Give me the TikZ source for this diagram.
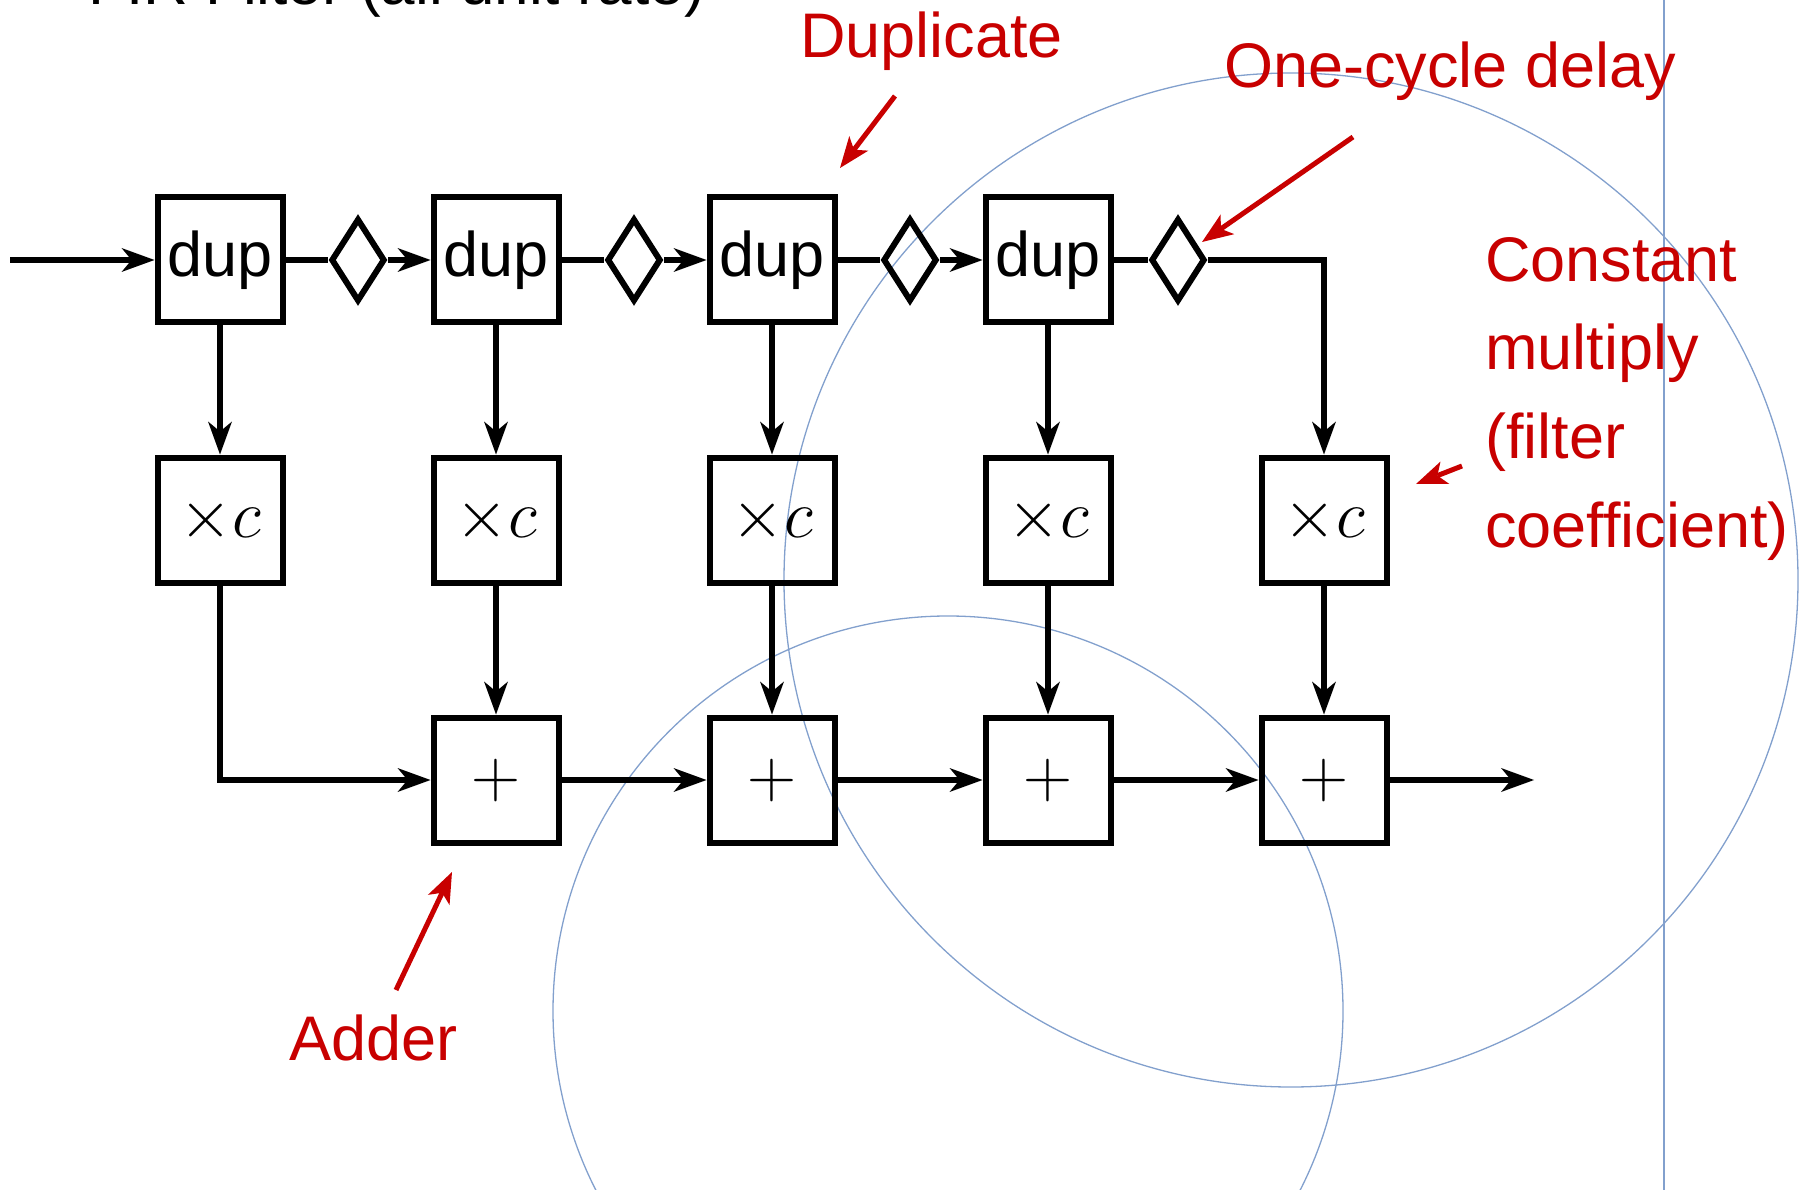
\RequirePackage{fix-cm}
\documentclass[tikz,border=0pt]{standalone}
\usepackage{fontspec}
\newfontfamily\arialf{Liberation Sans}
\usetikzlibrary{arrows.meta,shapes.geometric}
\definecolor{annred}{RGB}{200,0,0}
\definecolor{circblue}{RGB}{130,160,205}
\begin{document}
\begin{tikzpicture}[x=1pt,y=-1pt,
  blk/.style={draw, line width=6pt, minimum width=125pt, minimum height=125pt, inner sep=0pt},
  dupbox/.style={blk, font=\arialf\fontsize{63}{70}\selectfont},
  mathbox/.style={blk, font=\fontsize{68}{80}\selectfont},
  dly/.style={draw, diamond, line width=6pt, minimum width=54pt, minimum height=83pt, inner sep=0pt},
  flow/.style={line width=6pt, -{Stealth[length=33pt,width=24pt,inset=10pt,line width=0pt]}},
  wire/.style={line width=6pt},
  ann/.style={annred, line width=5pt, -{Stealth[length=31pt,width=24pt,inset=8pt,line width=0pt]}},
  anntext/.style={text=annred, font=\arialf\fontsize{63}{75}\selectfont, anchor=base west, inner sep=0pt},
  guide/.style={circblue, line width=1.3pt}]
\useasboundingbox (0,0) rectangle (1808,1190);
% guide shapes
\draw[guide] (1291,580) circle[radius=507pt];
\draw[guide] (948,1011) circle[radius=395pt];
\draw[guide] (1664,0) -- (1664,1190);
% title
\node[anchor=base west, inner sep=0pt, font=\arialf\fontsize{62}{70}\selectfont] (title) at (88,5) {FIR Filter (all unit rate)};
% blocks
\foreach \i/\x in {1/220,2/496,3/772,4/1048}{
  \node[dupbox] (dup\i) at (\x,260) {dup};
}
\foreach \i/\x in {1/358,2/634,3/910,4/1178}{
  \node[dly] (d\i) at (\x,260) {};
}
\foreach \i/\x in {1/220,2/496,3/772,4/1048,5/1324}{
  \node[mathbox] (xc\i) at (\x,520) {$\times c$};
}
\foreach \i/\x in {2/496,3/772,4/1048,5/1324}{
  \node[mathbox] (add\i) at (\x,780) {$+$};
}
\coordinate (in) at (10,260);
\coordinate (out) at (1534,780);
% connectors
\draw[flow] (in) -- (dup1.west);
\foreach \i/\j in {1/2,2/3,3/4}{
  \draw[wire] (dup\i.east) -- (d\i.west);
  \draw[flow] (d\i.east) -- (dup\j.west);
}
\draw[wire] (dup4.east) -- (d4.west);
\draw[flow] (d4.east) -| (xc5.north);
\foreach \i in {1,2,3,4}{
  \draw[flow] (dup\i.south) -- (xc\i.north);
}
\foreach \i in {2,3,4,5}{
  \draw[flow] (xc\i.south) -- (add\i.north);
}
\draw[flow] (xc1.south) |- (add2.west);
\foreach \i/\j in {2/3,3/4,4/5}{
  \draw[flow] (add\i.east) -- (add\j.west);
}
\draw[flow] (add5.east) -- (out);
% annotations
\node[anntext] (dupl) at (800,58) {Duplicate};
\node[anntext] (delay) at (1224,88) {One-cycle delay};
\node[anntext] (cm1) at (1485,282) {Constant};
\node[anntext] (cm2) at (1485,370) {multiply};
\node[anntext] (cm3) at (1485,458) {(filter};
\node[anntext] (cm4) at (1485,547) {coefficient)};
\node[anntext] (adder) at (289,1060) {Adder};
\coordinate (a1s) at (895,96);   \coordinate (a1e) at (840,168);
\coordinate (a2s) at (1353,137); \coordinate (a2e) at (1202,242);
\coordinate (a3s) at (1462,466); \coordinate (a3e) at (1416,484);
\coordinate (a4s) at (396,990);  \coordinate (a4e) at (452,872);
\draw[ann] (a1s) -- (a1e);
\draw[ann] (a2s) -- (a2e);
\draw[ann] (a3s) -- (a3e);
\draw[ann] (a4s) -- (a4e);
\end{tikzpicture}
\end{document}
